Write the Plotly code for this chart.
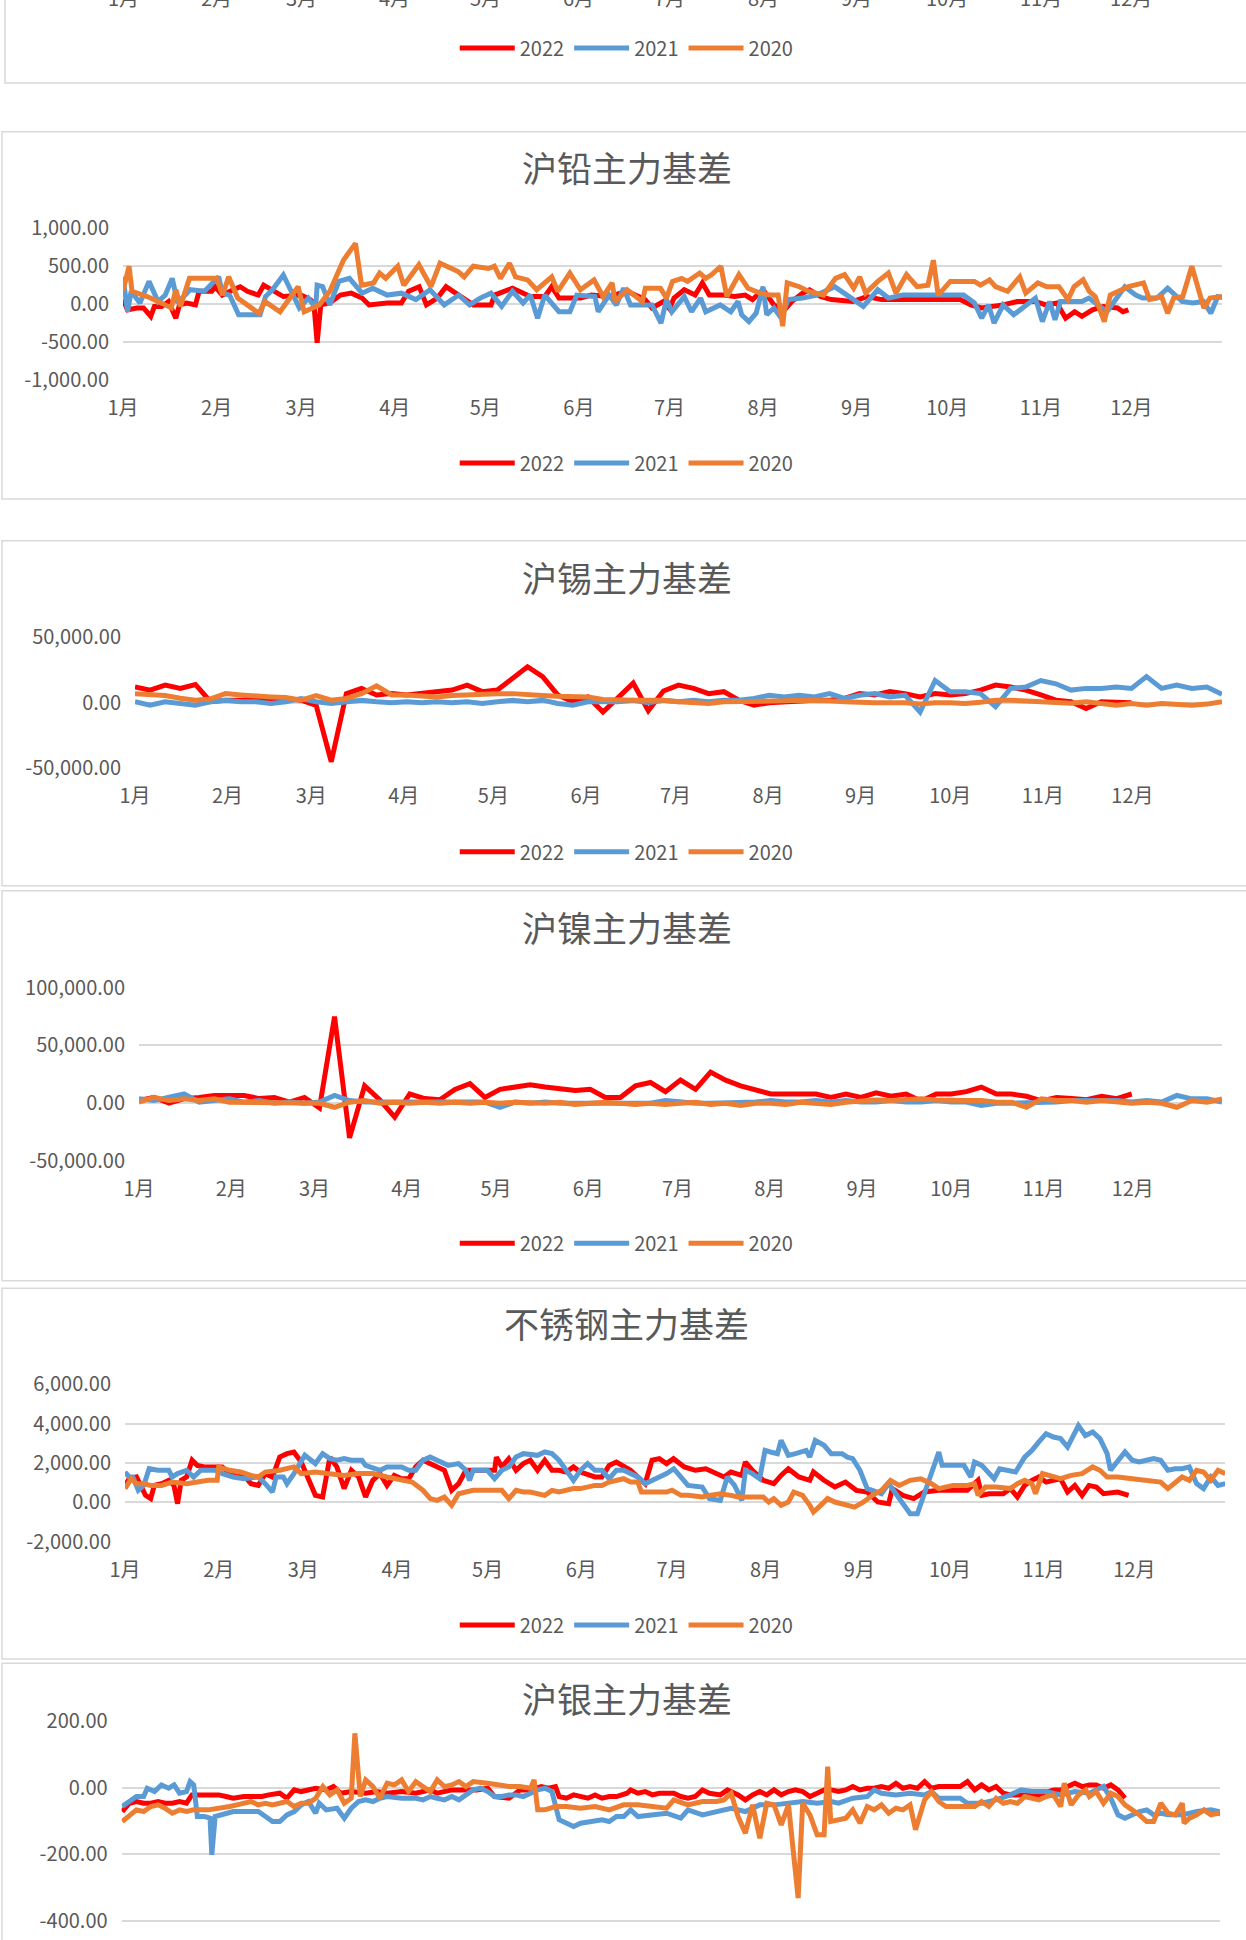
import pandas as pd
import plotly.graph_objects as go

W, H = 1246, 1940
FONT = "Noto Sans CJK SC"
TXT = "#595959"
GRID = "#D9D9D9"
YEARS = ["2022", "2021", "2020"]
COLORS = {"2022": "#FF0000", "2021": "#5B9BD5", "2020": "#ED7D31"}
MONTHS = ["1月", "2月", "3月", "4月", "5月", "6月", "7月", "8月", "9月", "10月", "11月", "12月"]
MONTH_STARTS = ["2022-%02d-01" % m for m in range(1, 13)]
YEAR0 = pd.Timestamp("2022-01-01")
LW = 5

# regular sampling dates (all years mapped onto one calendar year)
dates = pd.date_range("2022-01-01", "2022-12-31", periods=73)


def on_calendar(days):
    """day-of-year offsets -> dates on the shared calendar"""
    return YEAR0 + pd.to_timedelta(days, unit="D")


# ---------------- 沪铅主力基差 (day-of-year, value) ----------------
pb_2022_day = [0, 1.5, 4.5, 6.8, 9.2, 10.4, 12.8, 15.1, 17.5, 18.7, 21.1, 24, 25.2, 29.4, 30.5, 32.9, 36.5, 38.8,
               41.2, 44.8, 46.6, 49.5, 53.1, 59, 62, 63.2, 64.3, 65.5, 68.5, 72, 75.6, 79.2, 81.5, 87.5, 92.2,
               94.6, 98.1, 100.5, 104.1, 107, 111.2, 116, 121.9, 123.1, 129, 134.9, 139.7, 142, 144.4, 151.5,
               155.1, 161, 166.9, 170.5, 172.9, 175.2, 179, 181, 182.5, 185.9, 189.5, 191.9, 194.2, 199, 202.5,
               206.1, 208.5, 212, 215.6, 219.1, 221.5, 225.1, 227.4, 231, 234.6, 241.7, 246.4, 251.2, 257.1,
               263, 270.1, 277.3, 280.8, 284.4, 291.5, 296.2, 302.2, 305.7, 309.3, 312.2, 315.2, 317.6, 321.1,
               324.7, 329.4, 331.2, 333]
pb_2022_val = [60, -75, -50, -50, -160, -30, -30, 35, -185, -10, 15, -10, 170, 170, 230, 120, 190, 230,
               170, 120, 250, 190, 100, 120, 60, 15, -510, -10, 15, 120, 145, 80, -10, 15, 15,
               170, 230, -10, 80, 230, 120, -10, -10, 120, 210, 100, 100, 230, 80, 80,
               120, 100, 170, 100, 60, -50, 35, -60, 80, 190, 120, 280, 120, 120, 100,
               120, 60, 190, -10, -75, 35, 145, 190, 100, 60, 35, 100, 60, 60,
               60, 60, 60, -10, -50, -10, 35, 35, -10, 15, -185, -100, -160, -75,
               -30, -50, -100, -75]
pb_2021_day = [0, 1.5, 2.7, 5.6, 8.6, 11.6, 14, 16.3, 18.1, 22.2, 27, 31.7, 32.9, 35.3, 38.3, 45.4, 47.2, 49.5,
               53.1, 58.4, 61.4, 63.8, 64.3, 66.1, 68.5, 71.5, 75, 79.2, 82.7, 87.5, 92.2, 97, 101.7, 106.4,
               111.2, 114.8, 118.3, 121.9, 125.4, 129, 132.5, 134.9, 137.3, 139.7, 144.4, 148, 150.3, 156.3,
               157.4, 161, 163.4, 165.8, 168.1, 175.2, 178.2, 180, 181.8, 185.9, 188.3, 191.3, 193, 197.8,
               201.3, 203.7, 204.9, 207.3, 209.7, 212, 213.2, 215.6, 218, 220.3, 225.1, 229.8, 235.7, 240.5,
               245.2, 250, 253.5, 258.3, 270.1, 278.4, 282, 284.4, 286.7, 288.5, 291.5, 295, 298.6, 302.2,
               304.5, 306.9, 308.7, 310.5, 317.6, 319.9, 325.9, 329.4, 331.8, 335.4, 337.7, 342.5, 346,
               350.8, 354.3, 357.9, 360.3, 362.6, 365]
pb_2021_val = [360, -100, 170, 15, 300, 35, 120, 340, 15, 190, 170, 360, 145, 120, -140, -140, 100, 190,
               385, -50, 80, -50, 250, 230, -10, 300, 340, 145, 210, 120, 145, 60, 190, -10,
               120, -10, 80, 145, -30, 170, 15, 120, -185, 120, -100, -100, 120, 100,
               -100, 120, -10, 210, -10, -10, -250, 60, -100, 100, -100, 80, -100, -10,
               -100, 35, -140, -230, -120, 230, -140, -50, -185, 60, 80, 120, 230, 100,
               -30, 190, 80, 120, 120, 120, 15, -185, -10, -250, -10, -140, -30, 80,
               -230, 35, -205, 35, 35, 80, -100, 100, 230, 120, 80, 80, 210,
               35, 15, 35, -120, 100, 80]
pb_2020_day = [0, 2, 3, 8, 13, 16, 17.5, 19, 22, 31, 33, 35, 38, 45, 47, 52, 58, 60, 65, 68.5, 73, 77, 79, 83,
               85, 87, 91, 93, 98, 102, 105, 111, 113, 116, 121, 123, 125, 128, 130, 134, 137, 142, 144, 148,
               151.5, 156, 159, 162, 163, 167, 172, 173, 178, 180, 182, 185, 187, 191, 193, 195, 198, 200,
               204, 207, 211, 214, 217, 218.5, 220, 224, 227, 232, 236, 239, 242, 244, 246, 250, 253.5, 256,
               259.5, 263, 266.6, 268.4, 270, 274, 282, 284, 287, 289, 293, 297, 299, 303, 306, 310, 313,
               315, 318, 320, 322, 325, 327, 331, 333, 338, 340, 344, 346, 348, 351, 354, 358, 360, 364]
pb_2020_val = [170, 500, 170, 100, 10, -50, 190, -30, 340, 340, 120, 360, 80, -120, 35, -100, 230, -100, -10,
               170, 580, 800, 250, 280, 410, 340, 500, 250, 520, 230, 540, 430, 360, 500, 470, 500, 340, 540,
               360, 320, 190, 360, 170, 410, 190, 320, 100, 280, 35, 190, 35, 210, 210, 80, 300, 340, 300,
               410, 340, 390, 500, 100, 390, 210, 145, 120, 120, -290, 280, 230, 170, 120, 340, 390, 210,
               360, 145, 300, 410, 145, 390, 230, 250, 580, 120, 300, 300, 250, 320, 230, 170, 360, 145,
               280, 230, 230, 60, 230, 320, 170, 100, -230, 120, 190, 230, 280, 60, 100, -120, 80, 100,
               500, -50, 80, 100]
pb_tickvals = [-1000, -500, 0, 500, 1000]
pb_ticktext = ["-1,000.00", "-500.00", "0.00", "500.00", "1,000.00"]

# ---------------- 沪锡主力基差 (regular dates) ----------------
sn_2022 = [12200, 9700, 13500, 11000, 14000, 800, 2000, 2000, 3300, 2000, 3300, 2000, -2000,
           -45000, 7000, 11000, 6000, 7000, 6000, 7000, 8500, 9700, 13500, 8500, 9700, 18500, 27500, 20000,
           6000, 800, 4500, -7000, 4500, 15000, -6000, 9000, 13500, 11000, 7000, 8500, 2000, -1800, 0,
           800, 800, 2000, 2000, 3300, 7000, 6000, 8500, 7000, 4500, 7000, 6000, 7000, 9700, 13500,
           12000, 9700, 6000, 2000, 800, -4300, 800, 800, 0]
sn_2021 = [800, -1800, 800, -500, -1800, 800, 2000, 800, 800, -500, 800, 3300, 800, -500, 800, 2000, 800, 0, 800, 0,
           800, 0, 800, -500, 800, 2000, 800, 2000, -500, -1800, 800, 800, 800, 2000, 0, 2000, 800, 2000, 800, 2000,
           2000, 3300, 5800, 4500, 5800, 4500, 7000, 3300, 5800, 7000, 4500, 5800, -7000, 17000, 8500, 8500, 7000,
           -3000, 11000, 12000, 17000, 14500, 9700, 11000, 11000, 12000, 11000, 20000, 11000, 13500, 11000, 12000, 6500]
sn_2020 = [7000, 6000, 5500, 3500, 2000, 3000, 7000, 6000, 5000, 4500, 4000, 2000, 5500, 2000, 3300, 7000, 13000,
           6000, 6000, 5000, 4500, 5500, 6000, 7000, 7000, 7000, 6000, 5500, 5000, 4500, 4500, 2500, 2000, 2000,
           2000, 2000, 800, 0, -500, 800, 800, 800, 800, 1500, 2000, 2000, 1500, 800, 0, 0, 0, 0, -1000, 0, 0,
           -500, 500, 2000, 2000, 1500, 800, 800, -300, 800, -500, -1800, -500, -1800, -500, -1500, -1800, -1000, 800]
sn_tickvals = [-50000, 0, 50000]
sn_ticktext = ["-50,000.00", "0.00", "50,000.00"]

# ---------------- 沪镍主力基差 (regular dates) ----------------
ni_2022 = [2300, 5000, 0, 4000, 5000, 6700, 6700, 6700, 4000, 5000, 1000, 5000, -4000, 75000, -30000, 15000,
           3000, -12000, 8000, 4000, 3000, 12000, 17000, 5000, 12000, 14000, 16000, 14000, 12000, 11000, 12000,
           5000, 5000, 15000, 18000, 10000, 20000, 12000, 27000, 20000, 15000, 12000, 8000, 8000, 8000, 8000,
           5000, 8000, 5000, 9000, 6000, 8000, 2000, 8000, 8000, 10000, 14000, 8000, 8000, 6000, 2000, 5000,
           4000, 3000, 6000, 4000, 8000]
ni_2021 = [3800, 2300, 5200, 8000, 1000, 2300, 3800, 1000, 2300, 0, 1000, 0, 1000, 6700, 2300, 1000, 1000, 0,
           1000, 0, 1000, 0, 0, 1000, -3500, 1000, 0, 1000, 0, 0, 1000, 0, 0, 1000, 0, 2300, 1000, 0, 0, 0,
           1000, 1000, 2300, 1000, 1000, 2300, 1000, 2300, 1000, 1000, 2300, 1000, 1000, 2300, 1000, 1000,
           -2000, 0, 0, 0, 1000, 1000, 2300, 2300, 2300, 2300, 1000, 2300, 1000, 6700, 3800, 3800, 1000]
ni_2020 = [900, 5200, 2300, 3800, 2300, 3800, 900, 900, 0, 900, 0, 900, 0, -3500, 900, 2300, 0, 900, 0, 900,
           0, 900, 0, 900, 0, 900, 0, 0, 900, -1000, 0, 900, 0, -1000, 0, -1000, 0, 900, -1000, 0, -2000, 0,
           0, -1000, 900, 0, -1000, 900, 2300, 2900, 2300, 2900, 3800, 2900, 2300, 2300, 2300, 900, 900,
           -3500, 3800, 2300, 2300, 900, 2300, 900, 0, 900, 0, -3500, 2300, 900, 3800]
ni_tickvals = [-50000, 0, 50000, 100000]
ni_ticktext = ["-50,000.00", "0.00", "50,000.00", "100,000.00"]

# ---------------- 不锈钢主力基差 (day-of-year, value) ----------------
ss_2022_day = [0, 1.4, 3.8, 5, 6.8, 8.5, 9.7, 12.1, 14.5, 16.2, 17.4, 18.6, 20.4, 22.2, 23.9, 26.3, 29.9, 32.2,
               34.6, 37, 39.3, 41.7, 44.1, 46.4, 48.8, 51.2, 53.6, 55.9, 58.3, 60.7, 63, 65.4, 67.8, 70.1, 72.5,
               74.9, 77.3, 79.6, 82, 84.4, 86.7, 89.1, 91.5, 93.9, 96.2, 98.6, 101, 103.3, 105.7, 108.1, 110.4,
               112.8, 117.6, 122.3, 122.9, 124.7, 127, 129.4, 131.8, 134.1, 136.5, 138.9, 141.3, 143.6, 146,
               148.4, 150.7, 155.5, 157.8, 160.2, 162.6, 165, 167.3, 169.7, 172.1, 174.4, 176.8, 179.2, 181.5,
               185.1, 188.7, 192.2, 195.8, 198.2, 200.5, 204.1, 205.3, 207.6, 211.2, 214.7, 217.1, 219.5, 223,
               226.6, 227.8, 231.3, 234.9, 238.4, 242, 245.6, 249.1, 252.7, 253.9, 257.4, 261, 264.5, 269.3,
               274, 278.7, 282.3, 283.5, 285.9, 290.6, 293, 295.3, 297.7, 300.1, 302.4, 304.8, 307.2, 309.6,
               311.9, 314.3, 316.7, 319, 321.4, 323.8, 328.5, 332.1]
ss_2022_val = [860, 1200, 1290, 950, 356, 190, 860, 950, 1120, 860, -70, 1120, 1290, 2140, 1880, 1800, 1800, 1800,
               1460, 1290, 1370, 950, 860, 1460, 1290, 2300, 2475, 2560, 2050, 1120, 356, 270, 2300, 1800, 700,
               1630, 1290, 270, 1120, 1460, 860, 1370, 1200, 1200, 1800, 2140, 1970, 1800, 1630, 610, 950,
               1630, 1630, 1630, 2300, 1800, 2220, 1630, 1970, 2140, 1630, 2140, 1630, 1630, 1540,
               1800, 1540, 1290, 1290, 1880, 2050, 1800, 1630, 1290, 950, 2140, 2220, 1970, 2220,
               1800, 1630, 1710, 1460, 1290, 1540, 1370, 2050, 1630, 1120, 950, 1370, 1710, 1290,
               1120, 1540, 1120, 780, 1030, 610, 525, 17, -70, 700, 356, 190, 525, 610,
               610, 610, 1120, 356, 440, 440, 700, 270, 860, 1120, 1290, 1030, 1120, 1200,
               525, 860, 356, 860, 780, 440, 525, 356]
ss_2021_day = [0, 1.4, 2.6, 4.4, 6.2, 8, 10.9, 14.5, 15.6, 17.4, 20.4, 22.7, 25.1, 29.9, 32.2, 35.8, 39.3, 44.1,
               46.4, 48.8, 50, 52.4, 53.6, 55.9, 59.5, 63, 65.4, 67.8, 70.1, 72.5, 74.9, 78.4, 79.6, 84.4, 86.7,
               91.5, 93.9, 96.2, 98.6, 101, 103.3, 106.9, 110.4, 112.8, 114, 115.2, 119.9, 122.3, 124.7, 127,
               129.4, 131.8, 136.5, 138.9, 141.3, 143.6, 146, 148.4, 150.7, 153.1, 155.5, 157.8, 160.2, 162.6,
               165, 167.3, 169.7, 172.1, 174.4, 176.8, 179.2,
               181.6, 183.9, 186.3, 191, 193.4, 197, 199.3, 201.7, 204.1, 205.3, 207.6, 210, 211.8, 213.6,
               215.9, 217.1, 219.5, 221.9, 225.4, 226.6, 228.4, 231.3, 233.7, 237.3, 239, 240.8, 243.2, 245.6,
               250.3, 252.7, 255, 257.4, 259.8, 262.2, 263.3, 265.7, 267.5, 269.3, 270.4, 277.6, 279.9, 281.1,
               283.5, 285.9, 287.6, 289.4, 293, 294.7, 297.7, 300.1, 302.4, 304.8, 307.2, 309.6, 311.9, 315.5,
               317.8, 320.2, 322.6, 325, 326.1, 328.5, 330.9, 333.3, 335.6, 338, 340.4, 342.7, 345.1, 347.5,
               349.8, 352.2, 354.6, 356.9, 359.3, 361.7, 364.1]
ss_2021_val = [1540, 1290, 1290, 610, 860, 1710, 1630, 1630, 1290, 1460, 1630, 1290, 1630, 1630, 1460, 1290, 1200,
               1290, 950, 525, 1290, 1290, 950, 1460, 2390, 1970, 2475, 2220, 2140, 2220, 2140, 2140, 1880, 1630,
               1800, 1800, 1630, 1630, 2140, 2300, 2140, 1880, 1970, 1630, 1120, 1630, 1630, 1200, 1630, 1800,
               2300, 2475, 2390, 2560, 2475, 2140, 1630, 1120, 1630, 1970, 1630, 1630, 1200, 1630, 1630, 1460,
               1290, 950, 1120, 1290, 1460,
               1710, 1290, 860, 780, 190, 100, 1290, 860, 100, 1630, 1460, 1200, 2640, 2560, 2475, 3150, 2390,
               2475, 2640, 2300, 3150, 2900, 2475, 2475, 2300, 2220, 1630, 700, 440, 950, 440, -70, -580, -580,
               -70, 860, 1800, 2560, 1880, 1880, 1290, 2050, 1880, 1460, 1200, 1710, 1630, 1540, 2300, 2640,
               3070, 3490, 3320, 3240, 2810, 3900, 3400, 3580, 3240, 2475, 1630, 2050, 2560, 2140, 2050, 2140,
               2220, 2140, 1630, 1710, 1710, 1800, 950, 700, 1290, 860, 950]
ss_2020_day = [0, 2, 3.8, 6.2, 8.5, 12.1, 15.6, 20.4, 23.9, 27.5, 30.5, 31, 34.6, 38.2, 41.7, 44.1, 46.4, 51.2,
               55.9, 58.3, 63, 67.8, 72.5, 77.3, 82, 86.7, 91.5, 95, 98.6, 101, 103.3, 105.7, 108.1, 110.4, 115.2,
               119.9, 124.7, 127, 129.4, 131.8, 134.1, 138.9, 141.3, 143.6, 148.4, 150.7, 155.5, 157.8, 160.2,
               165, 167.3, 169.7, 170.9, 174.4, 179.2,
               181, 184, 186.3, 191, 193.4, 197, 200.5, 202.9, 207.6, 211.2, 213, 214.7, 217.1, 219.5, 221.3,
               224.2, 226.6, 227.8, 230.2, 232.5, 234.9, 238.4, 241.4, 244.4, 247.3, 250.3, 253.3, 256.2, 259.8,
               263.3, 266.9, 269.3, 274, 278.7, 281.1, 282.3, 284.7, 288.2, 293, 295.3, 297.7, 300.1, 301.3,
               303.6, 306, 309.6, 313.1, 316.7, 320.2, 322.6, 325, 328.5, 333.3, 338, 342.7, 345.1, 349.8,
               352.2, 354.6, 356.9, 359.3, 361.7, 364.1]
ss_2020_val = [700, 1200, 950, 950, 860, 860, 1030, 950, 1030, 1120, 1120, 1800, 1630, 1540, 1370, 1290, 1540, 1630,
               1800, 1460, 1540, 1460, 1370, 1460, 1460, 1290, 1120, 1030, 610, 190, 100, 270, -150, 440, 610,
               610, 610, 190, 610, 525, 525, 356, 610, 525, 700, 700, 860, 860, 1030, 1200, 1030, 1030, 525,
               525, 525,
               620, 356, 356, 270, 356, 440, 356, 270, 270, 270, 17, 190, -150, 17, 525, 356, -150, -490, -150,
               190, 17, -150, -240, 17, 356, 610, 1120, 860, 1120, 1200, 950, 700, 860, 860, 950, 356, 780,
               780, 700, 950, 1120, 950, 440, 1460, 1370, 1200, 1370, 1460, 1800, 1630, 1290, 1290, 1200,
               1120, 1030, 700, 1290, 1120, 1630, 1540, 1120, 1630, 1460]
ss_tickvals = [-2000, 0, 2000, 4000, 6000]
ss_ticktext = ["-2,000.00", "0.00", "2,000.00", "4,000.00", "6,000.00"]

# ---------------- 沪银主力基差 (day-of-year, value) ----------------
ag_2022_day = [0.2, 2.6, 4.9, 7.3, 9.7, 12.1, 14.4, 16.8, 19.2, 21.5, 23.3, 25.1, 28.7, 32.2, 34.6, 37, 40.5,
               44.1, 46.5, 48.8, 52.4, 54.8, 57.2, 59.5, 61.9, 64.3, 67.8, 70.2, 72.6, 76.1, 80.9, 84.5, 88,
               92.8, 97.5, 102.3, 104.6, 109.4, 114.1, 117.7, 121.3, 123.6, 128.4, 132, 135.5, 139.1, 141.4,
               143.8, 145, 147.4, 149.8, 152.1, 154.5, 156.9, 159.2, 161.6, 164, 167.5, 168.7, 171.1, 173.5,
               175.9, 178.2, 180.6,
               183, 185.3, 187.7, 190.1, 192.5, 194.8, 198.4, 200.8, 204.3, 206.7, 209.1, 211.5, 213.8, 216.2,
               218.6, 221, 223.3, 225.7, 228.1, 230.5, 232.8, 235.2, 237.6, 240, 242.3, 244.7, 247.1, 249.4,
               251.8, 254.2, 256.6, 258.9, 261.3, 263.7, 266.1, 268.4, 270.8, 275.6, 277.9, 280.3, 282.7, 285,
               287.4, 289.8, 292.2, 294.5, 299.3, 304, 308.8, 311.2, 313.5, 315.9, 318.3, 320.7, 323, 325.4,
               327.8, 330.2, 332.5]
ag_2022_val = [-72, -47, -42, -47, -47, -42, -47, -47, -42, -47, -22, -22, -22, -22, -27, -32, -27,
               -27, -27, -22, -17, -32, -7, -12, -7, -2, -7, 3, -17, -12, -17, -12, -17,
               -12, -17, -7, -17, -7, -7, -7, -2, -27, -32, -7, -7, 3, -2,
               3, -27, -32, -22, -27, -32, -22, -32, -27, -27, -17, -7, -17, -12,
               -22, -17, -17,
               -17, -27, -32, -27, -7, -17, -22, -7, -22, -37, -22, -12, -22, -7,
               -22, -12, -7, -12, -27, -17, -7, -7, -12, -7, 3, -7, -2, -2,
               3, -2, 13, -2, 3, -2, 18, -2, 3, 3, 3, 18, -7, 8,
               -7, 3, -17, -22, -22, -22, -7, -7, 3, 13, 3, 8, 8, -2,
               8, -7, -32]
ag_2021_day = [0.2, 2.6, 4.9, 7.3, 8.5, 10.9, 13.2, 15.6, 17.4, 19.2, 21.5, 22.7, 23.9, 25.1, 27.5, 29.3, 29.9,
               31, 33.4, 37, 40.5, 45.3, 47.7, 50, 52.4, 54.8, 57.2, 59.5, 61.9, 64.3, 65.5, 67.8, 71.4, 73.8,
               76.1, 78.5, 80.9, 83.3, 85.6, 88, 92.8, 97.5, 99.9, 102.3, 104.6, 107, 109.4, 111.8, 114.1,
               116.5, 118.9, 121.3, 123.6, 126, 128.4, 130.7, 133.1, 135.5, 137.9, 140.3, 142.6, 145, 147.4,
               149.8, 152.1, 156.9, 159.2, 161.6, 164, 166.4, 168.7, 171.1, 175.9, 180.6,
               185.3, 187.7, 192.5, 197.2, 202, 206.7, 211.5, 216.2, 221, 225.7, 230.5, 235.2, 237.6, 242.3,
               247.1, 249.4, 251.8, 256.6, 261.3, 266.1, 268.4, 270.8, 277.9, 280.3, 285, 289.8, 294.5, 298.1,
               301.7, 306.4, 311.2, 315.9, 320.7, 325.4, 327.8, 330.2, 332.5, 334.9, 337.3, 339.7, 342, 344.4,
               346.8, 351.5, 356.3, 361, 364.6]
ag_2021_val = [-57, -42, -27, -27, -2, -12, 8, -2, 8, -17, -12, 18, 8, -87, -87, -92, -202,
               -87, -82, -72, -72, -72, -87, -102, -102, -82, -72, -52, -42, -77, -47, -67, -62, -92,
               -62, -42, -37, -42, -32, -27, -32, -32, -37, -27, -32, -37, -27, -37, -22,
               -7, -2, -12, -27, -27, -22, -22, -27, -17, -7, -2, -12, -97, -107,
               -117, -107, -102, -97, -102, -87, -87, -67, -87, -82, -77,
               -92, -67, -82, -72, -62, -72, -52, -52, -47, -42, -47, -42, -47, -32,
               -27, -7, -17, -22, -17, -22, -12, -32, -32, -47, -47, -37, -22, -7,
               -12, -12, -22, -12, -17, 3, -32, -82, -92, -82, -72, -67, -82, -77,
               -82, -82, -72, -67, -74]
ag_2020_day = [0.2, 2.6, 4.9, 7.3, 9.7, 12.1, 14.4, 16.8, 19.2, 21.5, 23.9, 28.7, 33.4, 35.8, 38.2, 40.5, 42.9,
               45.3, 47.7, 50, 52.4, 54.8, 57.2, 59.5, 61.9, 64.3, 66.7, 69, 71.4, 73.8, 76.1, 77.3, 79.1,
               80.9, 83.3, 85.6, 88, 90.4, 92.8, 95.1, 97.5, 99.9, 102.3, 104.6, 107, 109.4, 111.8, 114.1,
               116.5, 121.3, 126, 128.4, 132, 135.5, 136.7, 137.9, 140.3, 143.8, 147.4, 152.1, 156.9, 161.6,
               166.4, 171.1, 175.9, 180.6, 183, 187.7, 192.5, 197.2, 199.6, 202, 204.3, 206.7, 209.1, 211.5,
               213.8, 216.2, 218.6, 221, 224.2, 225.7, 228.1, 230.5, 232.8, 234, 235, 240, 242.3, 244.7,
               247.1, 249.4, 251.8, 254.2, 256.6, 258.9, 261.3, 263.1, 266.1, 268.4, 270.8, 273.2, 282.7,
               285, 287.4, 289.8, 292.2, 294.5, 296.9, 299.3, 304, 306.4, 308.8, 311.2, 312.4, 314.7, 317.1,
               319.5, 320.7, 323, 325.4, 327.8, 330.2, 332.5, 334.9, 337.3, 339.7, 342, 344.4, 346.8, 349.2,
               351.5, 352.1, 353.9, 356.3, 358.7, 361, 363.4, 365]
ag_2020_val = [-102, -82, -67, -72, -57, -52, -62, -77, -67, -72, -67, -67, -62, -57, -52, -47, -42,
               -52, -47, -52, -47, -42, -57, -47, -47, -32, 3, -22, -7, -47, -32, 163, -27,
               23, 3, -32, 13, 8, 23, -12, 18, 3, -12, 23, 3, 8, 18, 3,
               18, 13, 8, 3, 3, -2, 23, -67, -67, -57, -57, -62, -57, -67,
               -52, -52, -57, -62, -37, -52, -42, -42, -37, -17, -87, -137, -52, -152,
               -47, -52, -112, -52, -332, -47, -82, -142, -142, 63, -102, -92, -67, -107,
               -57, -67, -52, -77, -62, -67, -52, -127, -37, -12, -42, -57, -57,
               -42, -57, -32, -47, -42, -47, -27, -37, -27, -22, -57, 13, -52, -22,
               -7, -27, -12, -47, -17, -27, -52, -67, -82, -102, -102, -47, -77, -82,
               -47, -107, -92, -82, -67, -82, -77, -82]
ag_tickvals = [-400, -200, 0, 200]
ag_ticktext = ["-400.00", "-200.00", "0.00", "200.00"]


def reg(vals):
    return (dates[:len(vals)], vals)


def irr(days, vals):
    return (on_calendar(days), vals)


# ---------------- layout (pixel geometry) ----------------
panels = [
    dict(title="沪铅主力基差",
         data=[irr(pb_2022_day, pb_2022_val), irr(pb_2021_day, pb_2021_val), irr(pb_2020_day, pb_2020_val)],
         tv=pb_tickvals, tt=pb_ticktext,
         yr=[-1000, 1000], px=(123, 1222), py=(228.3, 380), ty=166, ly=463, box=(131.7, 499)),
    dict(title="沪锡主力基差", data=[reg(sn_2022), reg(sn_2021), reg(sn_2020)], tv=sn_tickvals, tt=sn_ticktext,
         yr=[-50000, 50000], px=(135, 1222), py=(637.3, 768.3), ty=576, ly=851.7, box=(540.7, 885.7)),
    dict(title="沪镍主力基差", data=[reg(ni_2022), reg(ni_2021), reg(ni_2020)], tv=ni_tickvals, tt=ni_ticktext,
         yr=[-50000, 100000], px=(139, 1222), py=(987.7, 1161), ty=926, ly=1243.3, box=(890.7, 1280.7)),
    dict(title="不锈钢主力基差",
         data=[irr(ss_2022_day, ss_2022_val), irr(ss_2021_day, ss_2021_val), irr(ss_2020_day, ss_2020_val)],
         tv=ss_tickvals, tt=ss_ticktext,
         yr=[-2000, 6000], px=(125, 1225), py=(1384.3, 1541.7), ty=1322.5, ly=1625, box=(1288.3, 1659)),
    dict(title="沪银主力基差",
         data=[irr(ag_2022_day, ag_2022_val), irr(ag_2021_day, ag_2021_val), irr(ag_2020_day, ag_2020_val)],
         tv=ag_tickvals, tt=ag_ticktext,
         yr=[-458, 200], px=(121.6, 1220), py=(1721, 1940), ty=1697.5, ly=None, box=(1663.3, 2100)),
]


def fy(py):
    return 1 - py / H


def legend_cfg(ly):
    return dict(orientation="h", x=0.503, xanchor="center", y=fy(ly), yanchor="middle",
                font=dict(size=20, color=TXT, family=FONT), bgcolor="rgba(0,0,0,0)",
                itemwidth=55, visible=True)


fig = go.Figure()
layout = dict(
    width=W, height=H, margin=dict(l=0, r=0, t=0, b=0),
    paper_bgcolor="white", plot_bgcolor="white", showlegend=True,
    font=dict(family=FONT, color=TXT, size=20),
    shapes=[], annotations=[],
)

# top (cut-off) panel: box, legend and the bottoms of its month labels
layout["shapes"].append(dict(type="rect", xref="paper", yref="paper", x0=5 / W, x1=1.05,
                             y0=fy(83), y1=1.1, line=dict(color=GRID, width=1.5)))
layout["legend"] = legend_cfg(48)
for yr in YEARS:
    fig.add_trace(go.Scatter(x=[None], y=[None], mode="lines", name=yr, legend="legend",
                             line=dict(color=COLORS[yr], width=LW), xaxis="x", yaxis="y"))
for m, t in zip(MONTH_STARTS, MONTHS):
    layout["annotations"].append(dict(x=m, y=fy(-3), xref="x", yref="paper", text=t, showarrow=False,
                                      yanchor="middle", font=dict(size=20, color=TXT)))

for k, p in enumerate(panels, start=1):
    sfx = "" if k == 1 else str(k)
    leg = "legend" + str(k + 1)
    for yr, (xs, vals) in zip(YEARS, p["data"]):
        fig.add_trace(go.Scatter(
            x=xs, y=vals, mode="lines", name=yr,
            line=dict(color=COLORS[yr], width=LW),
            xaxis="x" + sfx, yaxis="y" + sfx, legend=leg,
            showlegend=p["ly"] is not None,
        ))
    layout["xaxis" + sfx] = dict(
        domain=[p["px"][0] / W, p["px"][1] / W], anchor="y" + sfx, type="date",
        range=["2022-01-01", "2022-12-31"], tickvals=MONTH_STARTS, ticktext=MONTHS,
        showgrid=False, zeroline=False, showline=False, ticks="", automargin=False,
        tickfont=dict(size=20, color=TXT), ticklabelstandoff=14,
        showticklabels=p["ly"] is not None,
    )
    layout["yaxis" + sfx] = dict(
        domain=[fy(p["py"][1]), fy(p["py"][0])], anchor="x" + sfx, range=p["yr"],
        tickvals=p["tv"], ticktext=p["tt"], showgrid=True, gridcolor=GRID, gridwidth=1.5,
        zeroline=False, showline=False, ticks="", automargin=False,
        tickfont=dict(size=20, color=TXT), ticklabelstandoff=13,
    )
    layout["shapes"].append(dict(type="rect", xref="paper", yref="paper", x0=2 / W, x1=1.05,
                                 y0=fy(p["box"][1]), y1=fy(p["box"][0]),
                                 line=dict(color=GRID, width=1.5), layer="below"))
    layout["annotations"].append(dict(x=0.503, y=fy(p["ty"]), xref="paper", yref="paper",
                                      text=p["title"], showarrow=False, yanchor="middle",
                                      font=dict(size=35, color=TXT, family=FONT)))
    if p["ly"] is not None:
        layout[leg] = legend_cfg(p["ly"])

fig.update_layout(**layout)
fig.write_html("out.html", config={"displayModeBar": False},
               post_script="document.body.style.margin='0px';")
